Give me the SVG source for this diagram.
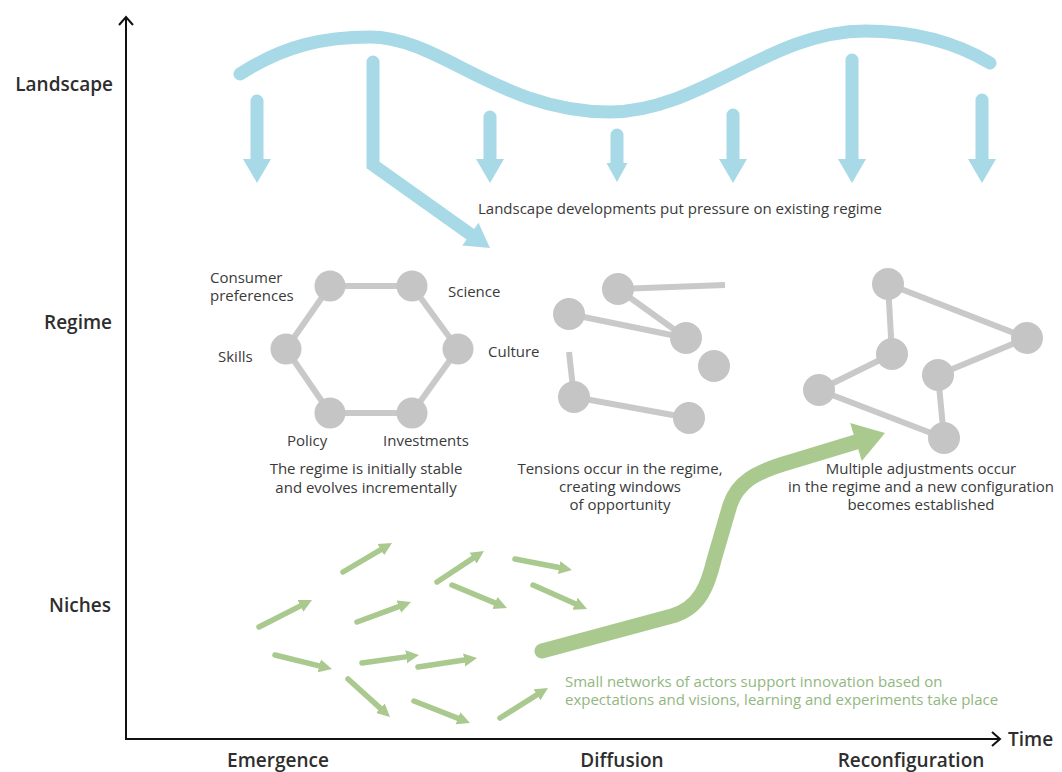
<svg xmlns="http://www.w3.org/2000/svg" width="1062" height="772" viewBox="0 0 1062 772">
<defs>
<style>
.t{font-family:"Open Sans","Noto Sans","Liberation Sans",sans-serif;font-size:15px;fill:#3a3a3a}
.b{font-family:"Open Sans","Noto Sans","Liberation Sans",sans-serif;font-size:19px;font-weight:600;fill:#2e2e2e}
.gt{fill:#92b780}
.node{fill:#c5c5c5}
.edge{stroke:#c9c9c9;stroke-width:6;fill:none}
.blue{stroke:#a8d9e7;stroke-width:13;fill:none;stroke-linecap:round}
.bh{fill:#a8d9e7}
.sm{stroke:#a9c98f;stroke-width:5.5;stroke-linecap:round;fill:none;marker-end:url(#gh)}
.axis{stroke:#111;stroke-width:2;fill:none}
</style>
<marker id="gh" markerUnits="userSpaceOnUse" markerWidth="14" markerHeight="14" refX="5" refY="7" orient="auto" viewBox="0 0 14 14"><path d="M0,0.5 L13,7 L0,13.5 z" fill="#a9c98f"/></marker>
</defs>
<rect width="1062" height="772" fill="#ffffff"/>

<g id="axes">
<line class="axis" x1="126" y1="740" x2="126" y2="17"/>
<polyline class="axis" points="119,25 126,17 133,25"/>
<line class="axis" x1="125" y1="739" x2="1000" y2="739"/>
<polyline class="axis" points="992,732 1000,739 992,746"/>
<text class="b" x="113" y="91" text-anchor="end">Landscape</text>
<text class="b" x="112" y="329" text-anchor="end">Regime</text>
<text class="b" x="111" y="612" text-anchor="end">Niches</text>
<text class="b" x="278" y="767" text-anchor="middle">Emergence</text>
<text class="b" x="622" y="767" text-anchor="middle">Diffusion</text>
<text class="b" x="911" y="767" text-anchor="middle">Reconfiguration</text>
<text class="b" x="1008" y="746">Time</text>
</g>

<g id="landscape">
<path class="blue" stroke-width="14" d="M240,74 C285,45 325,37 370,37 C440,37 500,112 610,112 C700,112 770,31 865,31 C920,31 960,45 990,63"/>
<line class="blue" x1="257" y1="101" x2="257" y2="160"/><polygon class="bh" points="243,159 271,159 257,183"/>
<line class="blue" x1="490" y1="117" x2="490" y2="160"/><polygon class="bh" points="476,159 504,159 490,183"/>
<line class="blue" x1="617" y1="135" x2="617" y2="164"/><polygon class="bh" points="606.5,163 627.5,163 617,182"/>
<line class="blue" x1="733" y1="115" x2="733" y2="160"/><polygon class="bh" points="719,159 747,159 733,183"/>
<line class="blue" x1="852" y1="60" x2="852" y2="160"/><polygon class="bh" points="838,159 866,159 852,183"/>
<line class="blue" x1="982" y1="100" x2="982" y2="160"/><polygon class="bh" points="968,159 996,159 982,183"/>
<path class="blue" stroke-linejoin="miter" d="M373,62 L373,165 L470,234"/>
<polygon class="bh" points="462.3,245.5 478.5,222.7 490,248"/>
<text class="t" x="478" y="214">Landscape developments put pressure on existing regime</text>
</g>

<g id="connectors">
<line class="edge" x1="330" y1="286" x2="412" y2="286"/>
<line class="edge" x1="412" y1="286" x2="458" y2="349"/>
<line class="edge" x1="458" y1="349" x2="412" y2="413"/>
<line class="edge" x1="412" y1="413" x2="330" y2="413"/>
<line class="edge" x1="330" y1="413" x2="286" y2="349"/>
<line class="edge" x1="286" y1="349" x2="330" y2="286"/>
<line class="edge" x1="618" y1="289" x2="725" y2="285"/>
<line class="edge" x1="618" y1="289" x2="686" y2="338"/>
<line class="edge" x1="569" y1="314" x2="686" y2="338"/>
<line class="edge" x1="569" y1="352" x2="574" y2="397"/>
<line class="edge" x1="574" y1="397" x2="689" y2="418"/>
<line class="edge" x1="888" y1="284" x2="1027" y2="338"/>
<line class="edge" x1="888" y1="284" x2="892" y2="354"/>
<line class="edge" x1="892" y1="354" x2="819" y2="390"/>
<line class="edge" x1="819" y1="390" x2="944" y2="438"/>
<line class="edge" x1="944" y1="438" x2="938" y2="375"/>
<line class="edge" x1="938" y1="375" x2="1027" y2="338"/>
</g>

<g id="regime-stable">
<g id="n-consumer"><circle class="node" cx="330" cy="286" r="15.5"/><text class="t" x="210" y="283">Consumer</text><text class="t" x="210" y="301">preferences</text></g>
<g id="n-science"><circle class="node" cx="412" cy="286" r="15.5"/><text class="t" x="448" y="297">Science</text></g>
<g id="n-culture"><circle class="node" cx="458" cy="349" r="15.5"/><text class="t" x="488" y="357">Culture</text></g>
<g id="n-investments"><circle class="node" cx="412" cy="413" r="15.5"/><text class="t" x="383" y="446">Investments</text></g>
<g id="n-policy"><circle class="node" cx="330" cy="413" r="15.5"/><text class="t" x="287" y="446">Policy</text></g>
<g id="n-skills"><circle class="node" cx="286" cy="349" r="15.5"/><text class="t" x="218" y="362">Skills</text></g>
<text class="t" x="366" y="474" text-anchor="middle">The regime is initially stable</text>
<text class="t" x="366" y="493" text-anchor="middle">and evolves incrementally</text>
</g>

<g id="regime-tension">
<g id="t1"><circle class="node" cx="618" cy="289" r="16"/></g>
<g id="t2"><circle class="node" cx="569" cy="314" r="16"/></g>
<g id="t3"><circle class="node" cx="686" cy="338" r="16"/></g>
<g id="t4"><circle class="node" cx="714" cy="366" r="16"/></g>
<g id="t5"><circle class="node" cx="574" cy="397" r="16"/></g>
<g id="t6"><circle class="node" cx="689" cy="418" r="16"/></g>
<text class="t" x="620" y="474" text-anchor="middle">Tensions occur in the regime,</text>
<text class="t" x="620" y="492" text-anchor="middle">creating windows</text>
<text class="t" x="620" y="510" text-anchor="middle">of opportunity</text>
</g>

<g id="regime-new">
<g id="r1"><circle class="node" cx="888" cy="284" r="16"/></g>
<g id="r2"><circle class="node" cx="1027" cy="338" r="16"/></g>
<g id="r3"><circle class="node" cx="892" cy="354" r="16"/></g>
<g id="r4"><circle class="node" cx="938" cy="375" r="16"/></g>
<g id="r5"><circle class="node" cx="819" cy="390" r="16"/></g>
<g id="r6"><circle class="node" cx="944" cy="438" r="16"/></g>
<text class="t" x="921" y="474" text-anchor="middle">Multiple adjustments occur</text>
<text class="t" x="921" y="492" text-anchor="middle">in the regime and a new configuration</text>
<text class="t" x="921" y="510" text-anchor="middle">becomes established</text>
</g>

<g id="niches">
<line class="sm" x1="259" y1="627" x2="304.9" y2="603.6"/>
<line class="sm" x1="343" y1="572" x2="385.1" y2="547.1"/>
<line class="sm" x1="437" y1="582" x2="477.3" y2="555.4"/>
<line class="sm" x1="357" y1="622" x2="403.5" y2="604.8"/>
<line class="sm" x1="275" y1="655" x2="324.2" y2="667.1"/>
<line class="sm" x1="362" y1="663" x2="411.1" y2="656.1"/>
<line class="sm" x1="418" y1="667" x2="469.1" y2="659.2"/>
<line class="sm" x1="348" y1="679" x2="384.1" y2="711.6"/>
<line class="sm" x1="414" y1="701" x2="462.6" y2="720.1"/>
<line class="sm" x1="452" y1="585" x2="499.6" y2="604.9"/>
<line class="sm" x1="515" y1="559" x2="564.1" y2="568.5"/>
<line class="sm" x1="533" y1="585" x2="579.7" y2="605.8"/>
<line class="sm" x1="500" y1="718" x2="541.2" y2="692.2"/>
<path d="M542,651 L672,616 C700,608 708,585 714,560 L730,505 C738,482 755,472 790,462 L856,442" stroke="#a9c98f" stroke-width="15" stroke-linecap="round" stroke-linejoin="round" fill="none"/>
<polygon points="850.2,422.9 861.8,461.1 885,433" fill="#a9c98f"/>
<text class="t gt" x="565" y="687">Small networks of actors support innovation based on</text>
<text class="t gt" x="565" y="705">expectations and visions, learning and experiments take place</text>
</g>
</svg>
